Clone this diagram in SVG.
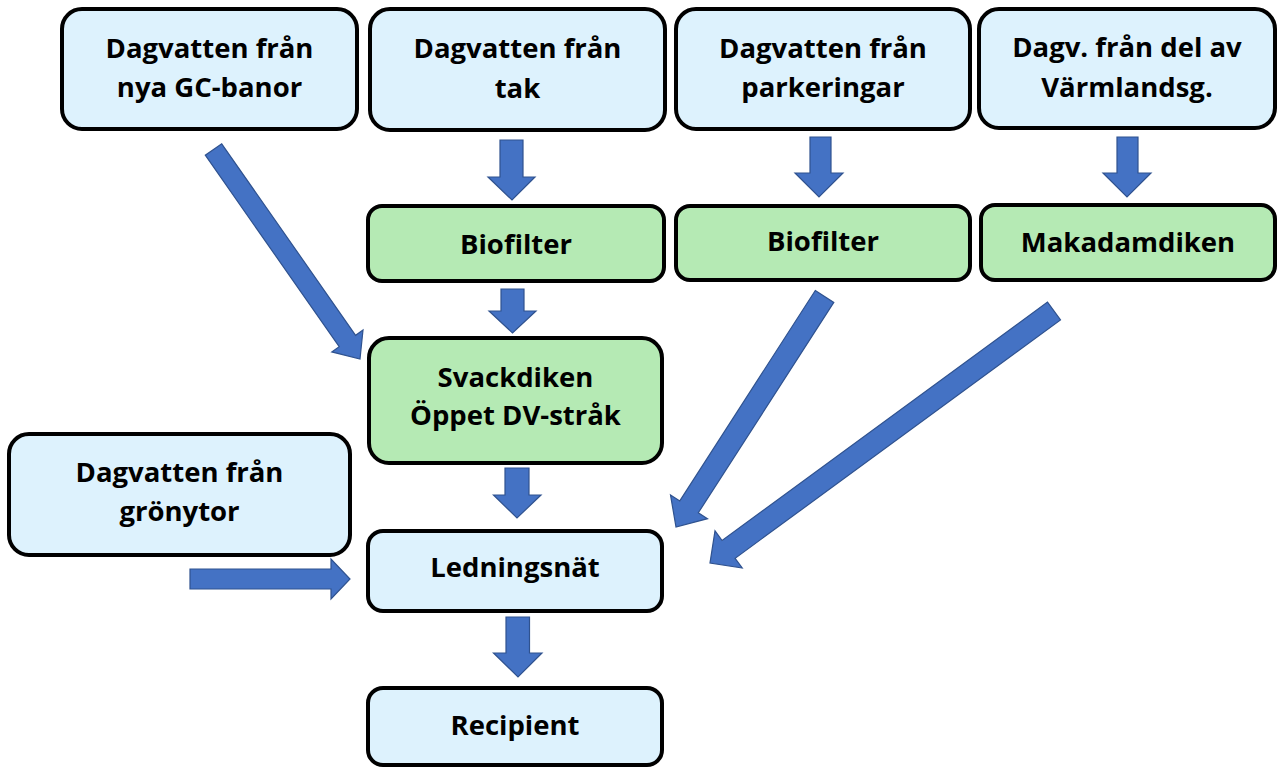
<svg xmlns="http://www.w3.org/2000/svg" width="1277" height="767" viewBox="0 0 1277 767">
  <style>
    .box { stroke: #000; stroke-width: 4; }
    .src { fill: #DDF2FD; }
    .trt { fill: #B5EAB4; }
    .lbl { font-family: "Open Sans", "Noto Sans", "Liberation Sans", sans-serif; font-weight: 700; font-size: 27.5px; fill: #000; text-anchor: middle; }
    .arrow { fill: #4472C4; stroke: #2F528F; stroke-width: 1.2; stroke-linejoin: miter; }
  </style>
  <rect width="1277" height="767" fill="#fff"/>

  <!-- sources -->
  <g id="gc-banor">
    <rect class="box src" x="62" y="9" width="295" height="120" rx="20"/>
    <text class="lbl" x="209.5" y="58">Dagvatten från</text>
    <text class="lbl" x="209.5" y="97">nya GC-banor</text>
  </g>
  <g id="tak">
    <rect class="box src" x="370" y="9" width="295" height="121" rx="20"/>
    <text class="lbl" x="517.5" y="58">Dagvatten från</text>
    <text class="lbl" x="517.5" y="98">tak</text>
  </g>
  <g id="parkeringar">
    <rect class="box src" x="676" y="9" width="294" height="120" rx="20"/>
    <text class="lbl" x="823" y="58">Dagvatten från</text>
    <text class="lbl" x="823" y="97">parkeringar</text>
  </g>
  <g id="varmlandsg">
    <rect class="box src" x="979" y="9" width="296" height="119" rx="20"/>
    <text class="lbl" x="1127" y="57">Dagv. från del av</text>
    <text class="lbl" x="1127" y="97">Värmlandsg.</text>
  </g>
  <g id="gronytor">
    <rect class="box src" x="9" y="434" width="341" height="121" rx="20"/>
    <text class="lbl" x="179.5" y="482">Dagvatten från</text>
    <text class="lbl" x="179.5" y="521">grönytor</text>
  </g>

  <!-- treatment steps -->
  <g id="biofilter-tak">
    <rect class="box trt" x="368" y="206" width="296" height="75" rx="14"/>
    <text class="lbl" x="516" y="254">Biofilter</text>
  </g>
  <g id="biofilter-parkering">
    <rect class="box trt" x="676" y="206" width="294" height="74" rx="14"/>
    <text class="lbl" x="823" y="251">Biofilter</text>
  </g>
  <g id="makadamdiken">
    <rect class="box trt" x="981" y="205" width="294" height="75" rx="14"/>
    <text class="lbl" x="1128" y="252">Makadamdiken</text>
  </g>
  <g id="svackdiken">
    <rect class="box trt" x="369" y="338" width="293" height="125" rx="20"/>
    <text class="lbl" x="515.5" y="387">Svackdiken</text>
    <text class="lbl" x="515.5" y="425">Öppet DV-stråk</text>
  </g>

  <!-- network and outlet -->
  <g id="ledningsnat">
    <rect class="box src" x="368" y="531" width="294" height="80" rx="15"/>
    <text class="lbl" x="515" y="577">Ledningsnät</text>
  </g>
  <g id="recipient">
    <rect class="box src" x="368" y="688" width="294" height="77" rx="15"/>
    <text class="lbl" x="515" y="735">Recipient</text>
  </g>

  <!-- block arrows -->
  <g id="connectors">
    <polygon class="arrow" points="500,140 523,140 523,177 535,177 512,200 488,177 500,177"/>
    <polygon class="arrow" points="810,137 831,137 831,173 843,173 819,197 795,173 810,173"/>
    <polygon class="arrow" points="1117,137 1138,137 1138,173 1151,173 1127,197 1103,173 1117,173"/>
    <polygon class="arrow" points="501,289 524,289 524,311 536,311 512.5,333 489,311 501,311"/>
    <polygon class="arrow" points="505,468 529,468 529,495 541,495 517,518 493.5,495 505,495"/>
    <polygon class="arrow" points="506,617 529.5,617 529.5,653 542,653 518,677 493.5,653 506,653"/>
    <polygon class="arrow" points="190,569 331,569 331,559 350,579 331,599 331,589 190,589"/>
    <polygon class="arrow" points="221.7,143.8 355.6,335.3 363,330.1 360,359 331.8,351.9 339.2,346.7 205.3,155.2"/>
    <polygon class="arrow" points="815.3,290.5 833.8,302.4 698.3,512.8 707.5,518.7 676,527 670.5,494.9 679.8,500.9"/>
    <polygon class="arrow" points="1047.5,302.1 1060.5,319.9 735.1,558.3 742.2,568 710,563 715,530.8 722.1,540.5"/>
  </g>
</svg>
